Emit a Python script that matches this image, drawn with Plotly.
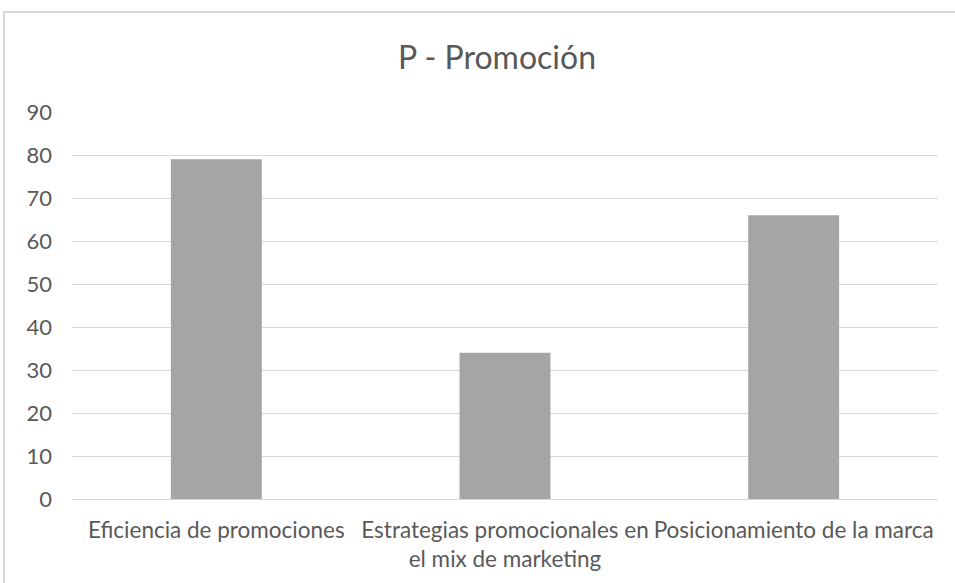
import plotly.graph_objects as go

categories = ["Eficiencia de promociones",
              "Estrategias promocionales en<br>el mix de marketing",
              "Posicionamiento de la marca"]
values = [79, 34, 66]
y_ticks = [0, 10, 20, 30, 40, 50, 60, 70, 80, 90]

W, H = 955, 583
# plot area in screenshot pixels: x 72..938, y 112..499
PX0, PX1, PY0, PY1 = 72, 938, 112, 499
L, T = PX0, PY0
R = W - PX1
B = H - PY1
pw, ph = PX1 - PX0, PY1 - PY0

fig = go.Figure(go.Bar(x=categories, y=values, marker=dict(color="#A5A5A5", line=dict(width=0)),
                       width=0.315))

fig.update_layout(
    width=W, height=H,
    margin=dict(l=L, r=R, t=T, b=B),
    paper_bgcolor="white", plot_bgcolor="white",
    font=dict(family="Lato, Carlito, Calibri, sans-serif", color="#595959", size=21),
    title=dict(text="P - Promoción", xref="container", x=497 / W, xanchor="center",
               yref="container", y=1 - 58 / H, yanchor="middle",
               font=dict(size=32, color="#595959")),
    showlegend=False,
)

fig.update_yaxes(range=[0, 90], tickvals=y_ticks, showgrid=True, gridcolor="#D9D9D9", gridwidth=1,
                 zeroline=False, showline=False, ticks="", ticklabelstandoff=19,
                 tickfont=dict(size=22, color="#595959"))
fig.update_xaxes(showgrid=False, showline=True, linecolor="#D9D9D9", linewidth=1, ticks="",
                 tickfont=dict(size=22.5, color="#595959"), tickangle=0, ticklabelstandoff=11)

# chart-area border
fig.add_shape(type="rect", xref="paper", yref="paper",
              x0=(4 - PX0) / pw, x1=1.2, y0=-0.5, y1=(PY1 - 12) / ph,
              line=dict(color="#D9D9D9", width=2), fillcolor="rgba(0,0,0,0)", layer="below")

fig.write_html("out.html", config={"displayModeBar": False},
               post_script="document.body.style.margin='0';")
